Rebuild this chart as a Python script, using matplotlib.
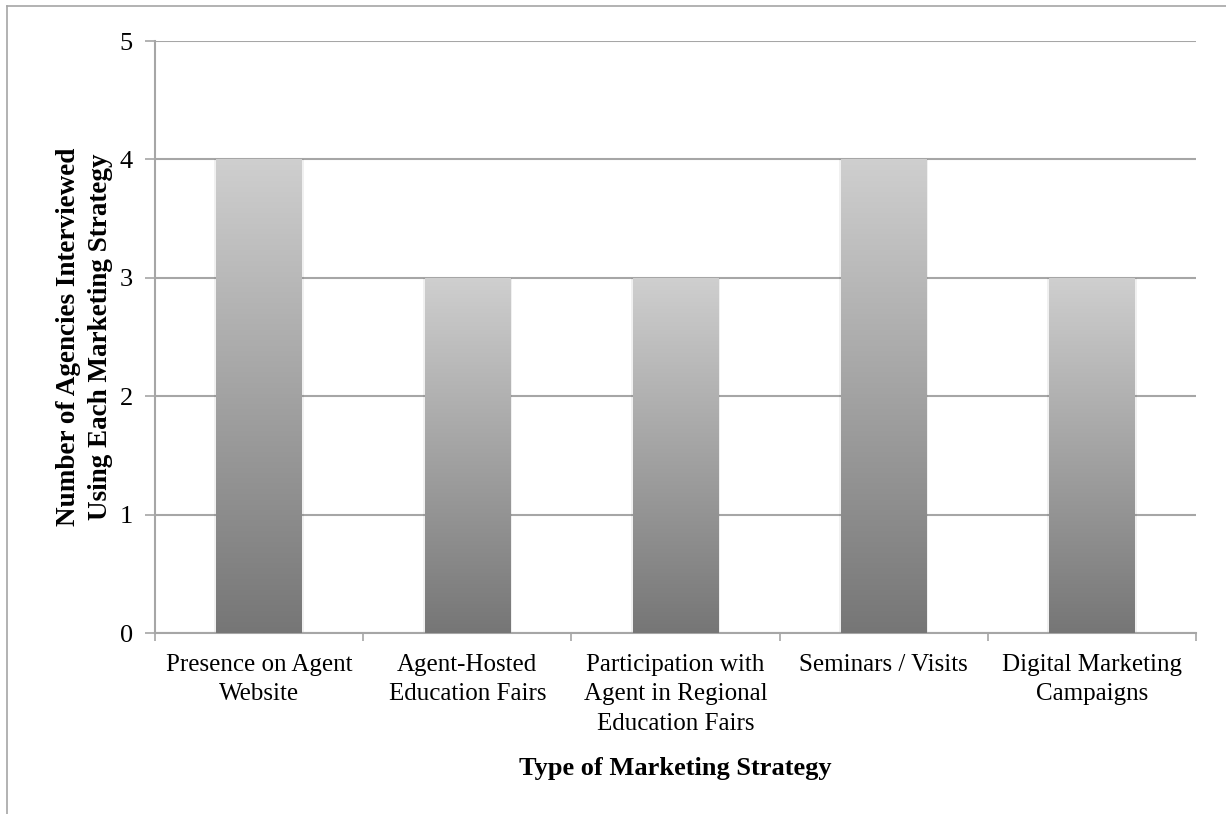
import numpy as np
import matplotlib.pyplot as plt
from matplotlib.lines import Line2D
from matplotlib.colors import LinearSegmentedColormap

plt.rcParams['font.family'] = ['Liberation Serif', 'DejaVu Serif']

# Data
categories = ['Presence on Agent\nWebsite',
              'Agent-Hosted\nEducation Fairs',
              'Participation with\nAgent in Regional\nEducation Fairs',
              'Seminars / Visits',
              'Digital Marketing\nCampaigns']
values = [4, 3, 3, 4, 3]
y_ticks = [0, 1, 2, 3, 4, 5]

W, H = 1226, 814
fig = plt.figure(figsize=(W / 100, H / 100), dpi=100)
ax = fig.add_axes([155 / W, 1 - 633 / H, (1196 - 155) / W, (633 - 41) / H])

grey_cmap = LinearSegmentedColormap.from_list('bargrey', ['#767676', '#cfcfcf'])
grad = np.linspace(0, 1, 256).reshape(-1, 1)

x = np.arange(len(categories))
bar_w = 0.41
bars = ax.bar(x, values, width=bar_w, color='none', zorder=3)
for b in bars:
    x0, y0 = b.get_x(), b.get_y()
    # faint shadow behind the bar
    ax.bar(x0 + b.get_width() / 2, b.get_height(), width=b.get_width() + 0.02,
           color='#000000', alpha=0.06, zorder=2, linewidth=0)
    im = ax.imshow(grad, cmap=grey_cmap, origin='lower', aspect='auto',
                   extent=[x0, x0 + b.get_width(), y0, y0 + b.get_height()],
                   zorder=3)
    im.set_clip_path(b)

ax.set_xlim(-0.5, len(categories) - 0.5)
ax.set_ylim(0, 5)
ax.set_yticks(y_ticks)
ax.yaxis.grid(True, color='#a6a6a6', linewidth=1.5, zorder=1)
ax.set_axisbelow(True)

ax.set_xticks(x)
ax.set_xticklabels(categories, fontsize=18, linespacing=1.45)
ax.set_xticks(np.arange(len(categories) + 1) - 0.5, minor=True)
ax.tick_params(axis='x', which='major', length=0, pad=15)
ax.tick_params(axis='x', which='minor', length=6, width=1.2, color='#a6a6a6', direction='out')
ax.tick_params(axis='y', length=7, width=1.2, color='#a6a6a6', labelsize=19, pad=9)

for side in ['top', 'right']:
    ax.spines[side].set_visible(False)
for side in ['left', 'bottom']:
    ax.spines[side].set_color('#a6a6a6')
    ax.spines[side].set_linewidth(1.5)

ax.set_ylabel('Number of Agencies Interviewed\nUsing Each Marketing Strategy',
              fontsize=19.5, fontweight='bold', labelpad=5, linespacing=1.35)
ax.set_xlabel('Type of Marketing Strategy', fontsize=19, fontweight='bold', labelpad=16)

# partial outer frame (top and left edges)
fig.add_artist(Line2D([7 / W, 1], [1 - 6 / H, 1 - 6 / H], color='#a6a6a6', linewidth=1.2))
fig.add_artist(Line2D([7 / W, 7 / W], [1 - 6 / H, 0], color='#a6a6a6', linewidth=1.2))

fig.savefig('out.png', dpi=100)
